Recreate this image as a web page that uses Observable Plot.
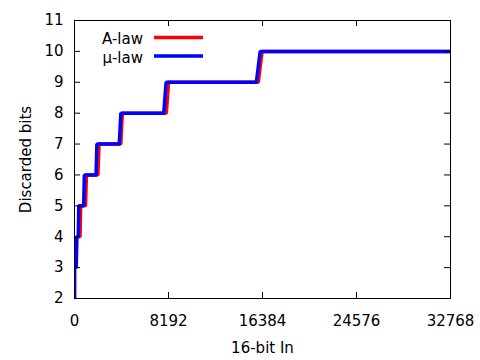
<!DOCTYPE html>
<html><head><meta charset="utf-8">
<script src="https://cdn.jsdelivr.net/npm/d3@7"></script>
<script src="https://cdn.jsdelivr.net/npm/@observablehq/plot@0.6"></script>
<style>body{margin:0;background:#fff;}</style>
</head><body><div id="chart"></div>
<script>
const seriesNames = ["A-law", "μ-law"];
const seriesColors = ["#ff0000", "#0000ff"];
const aLawX = [0, 0, 150, 190, 480, 540, 960, 1040, 2040, 2140, 4030, 4170, 8000, 8200, 16020, 16350, 32768];
const aLawY = [2, 3, 3, 4, 4, 5, 5, 6, 6, 7, 7, 8, 8, 9, 9, 10, 10];
const muLawX = [0, 0, 150, 190, 330, 370, 800, 860, 1880, 1950, 3900, 4040, 7780, 7980, 15850, 16180, 32768];
const muLawY = [2, 3, 3, 4, 4, 5, 5, 6, 6, 7, 7, 8, 8, 9, 9, 10, 10];
const xTicks = [0, 8192, 16384, 24576, 32768];
const yTicks = [2, 3, 4, 5, 6, 7, 8, 9, 10, 11];
const xLabel = "16-bit In";
const yLabel = "Discarded bits";

const aRows = aLawX.map((x, i) => ({x, y: aLawY[i]}));
const muRows = muLawX.map((x, i) => ({x, y: muLawY[i]}));

const W = 480, H = 360, mL = 74, mR = 30, mT = 20, mB = 62;
const fw = W - mL - mR, fh = H - mT - mB, tick = 6;

const legendMark = (index, scales, values, dims) => {
  const g = d3.create("svg:g");
  seriesNames.forEach((name, i) => {
    const y = dims.marginTop + 17.5 + i * 18.5;
    g.append("text").attr("x", dims.marginLeft + 69).attr("y", y + 1.5)
      .attr("dy", "0.35em").attr("text-anchor", "end").attr("fill", "black").text(name);
    g.append("line").attr("x1", dims.marginLeft + 80).attr("x2", dims.marginLeft + 129)
      .attr("y1", y).attr("y2", y).attr("stroke", seriesColors[i]).attr("stroke-width", 3.5);
  });
  return g.node();
};

const lineOpts = {x: "x", y: "y", strokeWidth: 3.5, strokeLinejoin: "miter", strokeLinecap: "butt", clip: true};

const chart = Plot.plot({
  width: W, height: H, marginLeft: mL, marginRight: mR, marginTop: mT, marginBottom: mB,
  style: {fontFamily: "'DejaVu Sans', sans-serif", fontSize: "15px", color: "black", background: "white"},
  x: {domain: [0, 32768]},
  y: {domain: [2, 11]},
  marks: [
    Plot.line(aRows, {...lineOpts, stroke: seriesColors[0]}),
    Plot.line(muRows, {...lineOpts, stroke: seriesColors[1]}),
    Plot.frame({stroke: "black"}),
    Plot.ruleX(xTicks, {stroke: "black", insetTop: fh - tick}),
    Plot.ruleX(xTicks, {stroke: "black", insetBottom: fh - tick}),
    Plot.ruleY(yTicks, {stroke: "black", insetRight: fw - tick}),
    Plot.ruleY(yTicks, {stroke: "black", insetLeft: fw - tick}),
    Plot.axisX(xTicks, {tickSize: 0, tickPadding: 17, tickFormat: d => String(d), label: xLabel, labelAnchor: "center", labelOffset: 54, labelArrow: "none", fill: "black"}),
    Plot.axisY(yTicks, {tickSize: 0, tickPadding: 11, tickFormat: d => String(d), label: yLabel, labelAnchor: "center", labelOffset: 54, labelArrow: "none", fill: "black"}),
    legendMark
  ]
});
document.getElementById("chart").append(chart);
</script>
</body></html>
